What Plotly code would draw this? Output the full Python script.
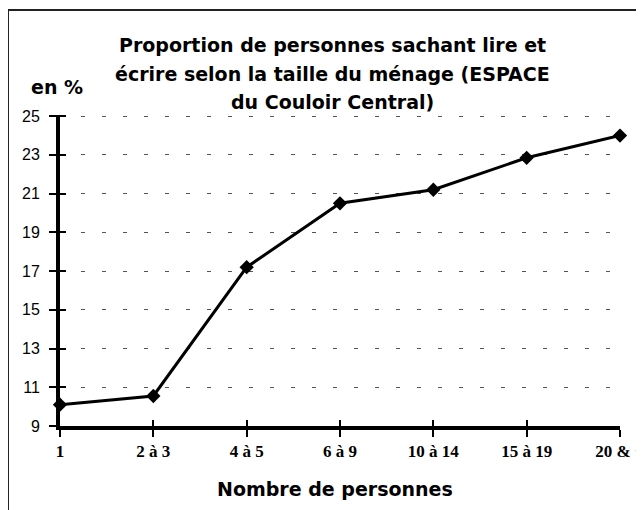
import plotly.graph_objects as go

# ---- data ----
categories = ["1", "2 à 3", "4 à 5", "6 à 9", "10 à 14", "15 à 19", "20 & +"]
values = [10.1, 10.55, 17.2, 20.5, 21.2, 22.85, 24.0]
y_ticks = [9, 11, 13, 15, 17, 19, 21, 23, 25]
title_lines = ["Proportion de personnes sachant lire et",
               "écrire selon la taille du ménage (ESPACE",
               "du Couloir Central)"]
y_label = "en %"
x_label = "Nombre de personnes"

OFF = 8  # page body margin
W, H = 644, 510
L = 60 - OFF
T = 115 - OFF
R = W - (620 - OFF)
B = H - (426 - OFF)
pw, ph = W - L - R, H - T - B


def px_x(p):
    return (p - OFF - L) / pw


def px_y(p):
    return (H - B - (p - OFF)) / ph


xpos = list(range(len(categories)))

fig = go.Figure()
fig.add_trace(go.Scatter(
    x=xpos, y=values, mode="lines+markers",
    line=dict(color="black", width=3),
    marker=dict(symbol="diamond", size=11, color="black"),
    cliponaxis=False, showlegend=False, hoverinfo="skip"))
# invisible companion trace so the inner-tick axes render
fig.add_trace(go.Scatter(
    x=xpos, y=values, xaxis="x2", yaxis="y2", mode="lines",
    line=dict(width=0), opacity=0, showlegend=False, hoverinfo="skip"))

xtickfont = dict(family="Liberation Serif", size=17, color="black",
                 weight="bold")
ytickfont = dict(family="Liberation Sans", size=16, color="black")
YMAX = 25.06

fig.update_layout(
    width=W, height=H,
    margin=dict(l=L, r=R, t=T, b=B, autoexpand=False),
    paper_bgcolor="white", plot_bgcolor="white",
    xaxis=dict(range=[0, len(categories) - 1], tickmode="array",
               tickvals=xpos, ticktext=categories, tickfont=xtickfont,
               showgrid=False, zeroline=False,
               showline=True, linecolor="black", linewidth=4,
               ticks="outside", ticklen=7, tickwidth=2, tickcolor="black"),
    yaxis=dict(range=[9, YMAX], tickmode="array", tickvals=y_ticks,
               tickfont=ytickfont, zeroline=False,
               showgrid=True, gridcolor="#555", gridwidth=1.3,
               griddash="4px,17px", ticklabelstandoff=6,
               showline=True, linecolor="black", linewidth=4,
               ticks="outside", ticklen=7, tickwidth=2, tickcolor="black"),
    xaxis2=dict(range=[0, len(categories) - 1], overlaying="x",
                tickmode="array", tickvals=xpos, showticklabels=False,
                showgrid=False, zeroline=False, showline=False,
                ticks="inside", ticklen=6, tickwidth=2, tickcolor="black"),
    yaxis2=dict(range=[9, YMAX], overlaying="y", side="left",
                tickmode="array", tickvals=y_ticks, showticklabels=False,
                showgrid=False, zeroline=False, showline=False,
                ticks="inside", ticklen=6, tickwidth=2, tickcolor="black"),
)

title_y = [45, 74, 102]
for line, yp in zip(title_lines, title_y):
    fig.add_annotation(text=line, xref="paper", yref="paper",
                       x=px_x(332), y=px_y(yp), xanchor="center",
                       yanchor="middle", showarrow=False,
                       font=dict(family="DejaVu Sans", size=19, color="black",
                                 weight="bold"))

fig.add_annotation(text=y_label, xref="paper", yref="paper",
                   x=px_x(57), y=px_y(87), xanchor="center", yanchor="middle",
                   showarrow=False,
                   font=dict(family="DejaVu Sans", size=19, color="black",
                             weight="bold"))
fig.add_annotation(text=x_label, xref="paper", yref="paper",
                   x=px_x(335), y=px_y(489), xanchor="center", yanchor="middle",
                   showarrow=False,
                   font=dict(family="DejaVu Sans", size=19, color="black",
                             weight="bold"))

# outer frame (left and top edges visible, right/bottom run off the page)
fig.add_shape(type="rect", xref="paper", yref="paper",
              x0=px_x(8), x1=px_x(670), y0=px_y(535), y1=px_y(10),
              line=dict(color="#222", width=2), layer="below")

fig.write_html("out.html")
